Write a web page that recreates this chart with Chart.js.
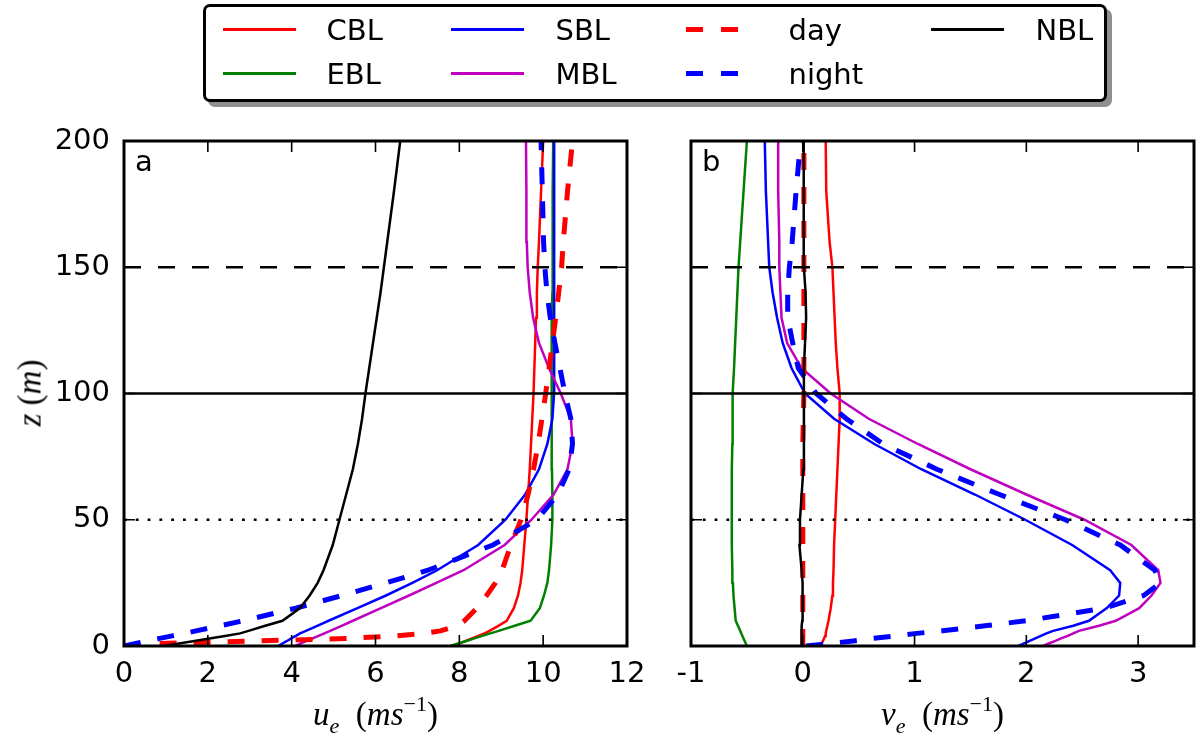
<!DOCTYPE html>
<html>
<head>
<meta charset="utf-8">
<script src="https://cdn.jsdelivr.net/npm/chart.js@4.4.0/dist/chart.umd.min.js"></script>
<style>
  html, body { margin: 0; padding: 0; background: #fff; }
  body { width: 1197px; height: 738px; position: relative; overflow: hidden; font-family: "DejaVu Sans", sans-serif; }
  canvas { position: absolute; top: 0; }
  #legend { position: absolute; left: 203px; top: 4px; width: 904px; height: 98px; box-sizing: border-box;
            border: 3px solid #000; border-radius: 7px; background: #fff; box-shadow: 5px 5px 0 #8f8f8f; }
  .lt { position: absolute; font-size: 29px; line-height: 29px; color: #000; white-space: nowrap; }
  .lh { position: absolute; }
  .axt { position: absolute; font-family: "Liberation Serif", serif; font-size: 33px; line-height: 33px; white-space: nowrap; color: #000; }
  .axt i { font-style: italic; }
  .axt sub { font-size: 22px; vertical-align: -8px; font-style: italic; line-height: 0; }
  .axt sup { font-size: 22px; vertical-align: 14px; line-height: 0; }
</style>
</head>
<body>
<canvas id="left" width="660" height="738" style="left:0"></canvas>
<canvas id="right" width="537" height="738" style="left:660px"></canvas>
<div id="legend"></div>
<div class="axt" style="left:265px;width:221px;top:698px;text-align:center"><i>u</i><sub>e</sub>&nbsp; (<i>ms</i><sup>&minus;1</sup>)</div>
<div class="axt" style="left:832px;width:221px;top:698px;text-align:center"><i>v</i><sub>e</sub>&nbsp; (<i>ms</i><sup>&minus;1</sup>)</div>
<div class="axt" style="left:30px;top:393px;transform:translate(-50%,-50%) rotate(-90deg)"><i>z</i> (<i>m</i>)</div>

<script>
// height levels (m)
const Z = [0, 1, 2, 3, 4, 5, 6, 8, 10, 15, 20, 25, 30, 40, 50, 60, 70, 80, 90, 100, 110, 120, 130, 140, 150, 160, 180, 200];

// u_e profiles (panel a)
const U_CBL = [7.85, 8.0, 8.15, 8.3, 8.45, 8.6, 8.72, 8.93, 9.13, 9.3, 9.4, 9.46, 9.5, 9.55, 9.6, 9.64, 9.68, 9.71, 9.74, 9.77, 9.79, 9.81, 9.83, 9.85, 9.87, 9.9, 9.95, 10.0];
const U_EBL = [7.78, 7.97, 8.17, 8.36, 8.55, 8.74, 8.94, 9.32, 9.7, 9.92, 10.02, 10.1, 10.14, 10.19, 10.22, 10.22, 10.21, 10.2, 10.2, 10.2, 10.2, 10.21, 10.21, 10.22, 10.22, 10.23, 10.23, 10.24];
const U_SBL = [3.68, 3.78, 3.89, 3.99, 4.1, 4.2, 4.34, 4.61, 4.88, 5.57, 6.25, 6.88, 7.47, 8.45, 9.1, 9.57, 9.9, 10.1, 10.22, 10.26, 10.27, 10.27, 10.26, 10.26, 10.26, 10.26, 10.26, 10.26];
const U_MBL = [4.08, 4.22, 4.36, 4.5, 4.64, 4.78, 4.92, 5.19, 5.46, 6.13, 6.8, 7.45, 8.1, 9.08, 9.72, 10.25, 10.58, 10.7, 10.66, 10.42, 10.14, 9.9, 9.76, 9.68, 9.63, 9.61, 9.6, 9.59];
const U_DAY = [null, 0.85, 3.2, 5.3, 6.5, 7.15, 7.55, 7.95, 8.12, 8.42, 8.65, 8.86, 9.02, 9.23, 9.47, 9.64, 9.77, 9.88, 9.97, 10.06, 10.14, 10.22, 10.3, 10.37, 10.44, 10.48, 10.58, 10.7];
const U_NIGHT = [0.0, 0.28, 0.57, 0.85, 1.15, 1.45, 1.72, 2.3, 2.85, 4.1, 5.2, 6.25, 7.25, 8.8, 9.85, 10.35, 10.62, 10.7, 10.66, 10.52, 10.4, 10.28, 10.17, 10.09, 10.04, 10.01, 9.98, 9.95];
const U_NBL = [0.95, 1.31, 1.68, 2.04, 2.41, 2.77, 2.97, 3.37, 3.78, 4.2, 4.43, 4.62, 4.76, 4.98, 5.14, 5.3, 5.46, 5.58, 5.68, 5.76, 5.85, 5.94, 6.03, 6.12, 6.2, 6.28, 6.44, 6.59];

// v_e profiles (panel b)
const V_CBL = [0.165, 0.17, 0.18, 0.19, 0.2, 0.205, 0.21, 0.22, 0.23, 0.25, 0.265, 0.27, 0.275, 0.28, 0.29, 0.3, 0.31, 0.32, 0.33, 0.33, 0.31, 0.295, 0.285, 0.275, 0.265, 0.24, 0.21, 0.205];
const V_EBL = [-0.5, -0.51, -0.52, -0.53, -0.54, -0.55, -0.56, -0.58, -0.6, -0.61, -0.62, -0.625, -0.63, -0.635, -0.635, -0.635, -0.635, -0.63, -0.63, -0.625, -0.615, -0.605, -0.595, -0.585, -0.575, -0.56, -0.53, -0.5];
const V_SBL = [1.93, 1.98, 2.03, 2.08, 2.13, 2.18, 2.24, 2.42, 2.56, 2.72, 2.83, 2.84, 2.75, 2.41, 1.99, 1.54, 1.06, 0.64, 0.28, 0.02, -0.1, -0.18, -0.23, -0.27, -0.3, -0.31, -0.33, -0.34];
const V_MBL = [2.15, 2.2, 2.26, 2.31, 2.37, 2.42, 2.47, 2.65, 2.8, 3.01, 3.12, 3.2, 3.18, 2.94, 2.52, 2.0, 1.5, 1.03, 0.59, 0.25, -0.01, -0.14, -0.19, -0.2, -0.21, -0.21, -0.22, -0.22];
const V_DAY = [0, 0, 0, 0, 0, 0, 0, 0, 0, 0, 0, 0, 0, 0, 0, 0, 0, 0, 0.005, 0.01, 0.01, 0.01, 0.01, 0.01, 0.01, 0.01, 0.01, 0.01];
const V_NIGHT = [0.03, 0.24, 0.45, 0.62, 0.83, 1.02, 1.25, 1.63, 2.0, 2.7, 3.05, 3.2, 3.15, 2.84, 2.35, 1.76, 1.2, 0.72, 0.39, 0.12, -0.04, -0.09, -0.135, -0.135, -0.12, -0.095, -0.06, -0.02];
const V_NBL = [-0.01, -0.01, -0.01, -0.01, -0.01, -0.01, -0.01, -0.01, -0.005, -0.005, 0.0, 0.0, -0.01, -0.03, -0.025, -0.01, 0.005, 0.01, 0.01, 0.01, 0.01, 0.02, 0.03, 0.025, 0.01, 0.005, 0.01, 0.01];

const NAMES = ["CBL", "EBL", "SBL", "MBL", "day", "night", "NBL"];
const U_VALUES = [U_CBL, U_EBL, U_SBL, U_MBL, U_DAY, U_NIGHT, U_NBL];
const V_VALUES = [V_CBL, V_EBL, V_SBL, V_MBL, V_DAY, V_NIGHT, V_NBL];
const COLORS = ["#ff0000", "#008000", "#0000ff", "#bf00bf", "#ff0000", "#0000ff", "#000000"];
const DASHED = [false, false, false, false, true, true, false];

// horizontal reference heights
const REF_Z = [150, 100, 50];
const REF_DASH = [[17, 17], [], [2.8, 9]];

const Z_TICKS = [0, 50, 100, 150, 200];

Chart.defaults.font.family = '"DejaVu Sans", sans-serif';
Chart.defaults.color = "#000";

// builds a scatter line from one profile, skipping missing levels
function profile(vals) {
  return Z.map((z, i) => ({ x: vals[i], y: z })).filter((p) => p.x !== null);
}

function buildDatasets(values, xMin, xMax) {
  const sets = NAMES.map((name, i) => ({
    label: name,
    data: profile(values[i]),
    borderColor: COLORS[i],
    borderWidth: DASHED[i] ? 5 : 2.5,
    borderDash: DASHED[i] ? [17, 17] : [],
    showLine: true,
    pointRadius: 0,
    tension: 0,
  }));
  REF_Z.forEach((z, k) => {
    sets.push({
      label: "ref" + z,
      data: [{ x: xMin, y: z }, { x: xMax, y: z }],
      borderColor: "#000",
      borderWidth: 2.7,
      borderDash: REF_DASH[k],
      showLine: true,
      pointRadius: 0,
    });
  });
  // later datasets on top, like the plotting order
  sets.forEach((d, i) => (d.order = sets.length - i));
  return sets;
}

// frame, inward ticks on all sides and the panel letter
const framePlugin = {
  id: "frame",
  afterDatasetsDraw(chart, args, opts) {
    const { ctx, chartArea: a, scales } = chart;
    ctx.save();
    ctx.strokeStyle = "#000";
    ctx.lineWidth = 1.6;
    ctx.beginPath();
    scales.x.ticks.forEach((t) => {
      const px = scales.x.getPixelForValue(t.value);
      ctx.moveTo(px, a.bottom);
      ctx.lineTo(px, a.bottom - 11);
      ctx.moveTo(px, a.top);
      ctx.lineTo(px, a.top + 11);
    });
    Z_TICKS.forEach((v) => {
      const py = scales.y.getPixelForValue(v);
      ctx.moveTo(a.left, py);
      ctx.lineTo(a.left + 11, py);
      ctx.moveTo(a.right, py);
      ctx.lineTo(a.right - 11, py);
    });
    ctx.stroke();
    ctx.lineWidth = 3;
    ctx.strokeRect(a.left, a.top, a.right - a.left, a.bottom - a.top);
    ctx.fillStyle = "#000";
    ctx.font = '29px "DejaVu Sans"';
    ctx.textBaseline = "alphabetic";
    ctx.fillText(opts.letter, a.left + 11, a.top + 30);
    ctx.restore();
  },
};

function makePanel(id, values, xMin, xMax, step, showY, letter, padLeft, padRight) {
  return new Chart(document.getElementById(id), {
    type: "scatter",
    data: { datasets: buildDatasets(values, xMin, xMax) },
    options: {
      responsive: false,
      animation: false,
      layout: { padding: { left: padLeft, right: padRight, top: 141, bottom: 0 } },
      plugins: {
        legend: { display: false },
        tooltip: { enabled: false },
        frame: { letter: letter },
      },
      scales: {
        x: {
          type: "linear",
          min: xMin,
          max: xMax,
          grid: { display: false, drawTicks: false },
          border: { display: false },
          ticks: { stepSize: step, includeBounds: false, padding: 11, font: { size: 29 }, maxRotation: 0, autoSkip: false },
          afterFit: (s) => {
            s.height = 92;
          },
        },
        y: {
          type: "linear",
          min: 0,
          max: 200,
          display: showY,
          grid: { display: false, drawTicks: false },
          border: { display: false },
          ticks: { stepSize: 50, padding: 14, font: { size: 29 } },
          afterFit: (s) => {
            s.width = showY ? 124 : 0;
          },
        },
      },
    },
    plugins: [framePlugin],
  });
}

makePanel("left", U_VALUES, 0, 12, 2, true, "a", 0, 33);
makePanel("right", V_VALUES, -1, 3.5, 1, false, "b", 31, 3);

// legend: 4 columns, filled top to bottom
const LEG_HANDLE_X = [223, 451, 686, 931];
const LEG_TEXT_X = [326.5, 555.5, 788.5, 1035.5];
const LEG_ROW_Y = [29.3, 73.3];
const legendHtml = [];
NAMES.forEach((name, i) => {
  const col = Math.floor(i / 2);
  const row = i % 2;
  const y = LEG_ROW_Y[row];
  const hx = LEG_HANDLE_X[col];
  if (DASHED[i]) {
    legendHtml.push(`<div class="lh" style="left:${hx}px;top:${y - 2.5}px;width:17px;height:5px;background:${COLORS[i]}"></div>`);
    legendHtml.push(`<div class="lh" style="left:${hx + 35}px;top:${y - 2.5}px;width:17px;height:5px;background:${COLORS[i]}"></div>`);
  } else {
    legendHtml.push(`<div class="lh" style="left:${hx}px;top:${y - 1.3}px;width:73px;height:2.6px;background:${COLORS[i]}"></div>`);
  }
  legendHtml.push(`<div class="lt" style="left:${LEG_TEXT_X[col]}px;top:${y - 13.8}px">${name}</div>`);
});
document.body.insertAdjacentHTML("beforeend", legendHtml.join(""));
</script>
</body>
</html>
